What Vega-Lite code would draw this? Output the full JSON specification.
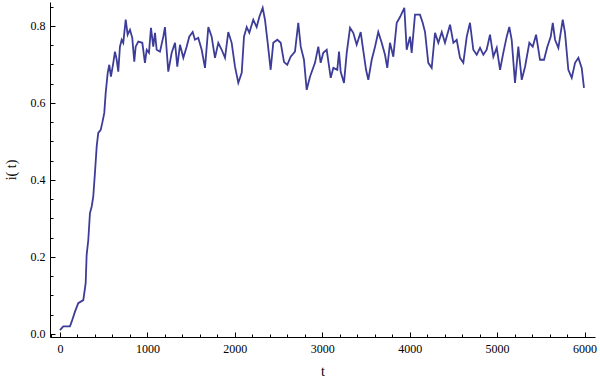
{
  "$schema": "https://vega.github.io/schema/vega-lite/v6.json",
  "width": 545,
  "height": 335,
  "autosize": {"type": "none"},
  "padding": {"left": 50, "top": 2, "right": 5, "bottom": 45},
  "config": {
    "view": {"stroke": null},
    "axis": {
      "grid": false,
      "domainColor": "black",
      "tickColor": "black",
      "labelColor": "black",
      "titleColor": "black",
      "labelFont": "Liberation Serif",
      "titleFont": "Liberation Serif",
      "labelFontSize": 12,
      "titleFontSize": 14,
      "titleFontWeight": "normal"
    }
  },
  "data": {
    "values": [
      {"t": 0, "v": 0.01}, {"t": 38, "v": 0.02}, {"t": 114, "v": 0.02}, {"t": 134, "v": 0.032},
      {"t": 172, "v": 0.058}, {"t": 209, "v": 0.08}, {"t": 267, "v": 0.088}, {"t": 294, "v": 0.132},
      {"t": 305, "v": 0.205}, {"t": 324, "v": 0.244}, {"t": 343, "v": 0.314}, {"t": 363, "v": 0.331},
      {"t": 381, "v": 0.357}, {"t": 400, "v": 0.418}, {"t": 420, "v": 0.487}, {"t": 438, "v": 0.522},
      {"t": 466, "v": 0.53}, {"t": 484, "v": 0.548}, {"t": 507, "v": 0.574}, {"t": 523, "v": 0.626},
      {"t": 546, "v": 0.678}, {"t": 564, "v": 0.699}, {"t": 583, "v": 0.668}, {"t": 610, "v": 0.704},
      {"t": 629, "v": 0.733}, {"t": 649, "v": 0.712}, {"t": 667, "v": 0.681}, {"t": 686, "v": 0.746},
      {"t": 706, "v": 0.764}, {"t": 724, "v": 0.756}, {"t": 752, "v": 0.816}, {"t": 774, "v": 0.777},
      {"t": 801, "v": 0.79}, {"t": 827, "v": 0.769}, {"t": 850, "v": 0.707}, {"t": 866, "v": 0.746},
      {"t": 896, "v": 0.759}, {"t": 942, "v": 0.756}, {"t": 972, "v": 0.704}, {"t": 992, "v": 0.738},
      {"t": 1018, "v": 0.73}, {"t": 1041, "v": 0.795}, {"t": 1067, "v": 0.746}, {"t": 1087, "v": 0.782},
      {"t": 1106, "v": 0.738}, {"t": 1144, "v": 0.733}, {"t": 1182, "v": 0.772}, {"t": 1201, "v": 0.797},
      {"t": 1239, "v": 0.681}, {"t": 1278, "v": 0.73}, {"t": 1316, "v": 0.756}, {"t": 1342, "v": 0.694},
      {"t": 1373, "v": 0.751}, {"t": 1411, "v": 0.717}, {"t": 1449, "v": 0.746}, {"t": 1479, "v": 0.772},
      {"t": 1518, "v": 0.784}, {"t": 1544, "v": 0.764}, {"t": 1582, "v": 0.769}, {"t": 1621, "v": 0.738},
      {"t": 1659, "v": 0.691}, {"t": 1697, "v": 0.797}, {"t": 1735, "v": 0.772}, {"t": 1773, "v": 0.717},
      {"t": 1811, "v": 0.756}, {"t": 1850, "v": 0.738}, {"t": 1888, "v": 0.717}, {"t": 1925, "v": 0.784},
      {"t": 1964, "v": 0.756}, {"t": 2002, "v": 0.694}, {"t": 2040, "v": 0.652}, {"t": 2079, "v": 0.678},
      {"t": 2105, "v": 0.772}, {"t": 2136, "v": 0.797}, {"t": 2166, "v": 0.782}, {"t": 2211, "v": 0.816},
      {"t": 2250, "v": 0.797}, {"t": 2280, "v": 0.823}, {"t": 2319, "v": 0.847}, {"t": 2345, "v": 0.816},
      {"t": 2376, "v": 0.756}, {"t": 2410, "v": 0.686}, {"t": 2440, "v": 0.756}, {"t": 2486, "v": 0.764},
      {"t": 2525, "v": 0.756}, {"t": 2563, "v": 0.706}, {"t": 2600, "v": 0.699}, {"t": 2639, "v": 0.72},
      {"t": 2688, "v": 0.733}, {"t": 2726, "v": 0.808}, {"t": 2754, "v": 0.746}, {"t": 2791, "v": 0.712},
      {"t": 2822, "v": 0.634}, {"t": 2860, "v": 0.668}, {"t": 2917, "v": 0.704}, {"t": 2955, "v": 0.746},
      {"t": 2982, "v": 0.704}, {"t": 3012, "v": 0.73}, {"t": 3051, "v": 0.738}, {"t": 3097, "v": 0.665},
      {"t": 3127, "v": 0.691}, {"t": 3172, "v": 0.686}, {"t": 3192, "v": 0.733}, {"t": 3211, "v": 0.681},
      {"t": 3249, "v": 0.652}, {"t": 3280, "v": 0.73}, {"t": 3318, "v": 0.795}, {"t": 3355, "v": 0.782},
      {"t": 3394, "v": 0.751}, {"t": 3440, "v": 0.784}, {"t": 3463, "v": 0.746}, {"t": 3501, "v": 0.686},
      {"t": 3527, "v": 0.66}, {"t": 3566, "v": 0.712}, {"t": 3604, "v": 0.746}, {"t": 3641, "v": 0.784},
      {"t": 3680, "v": 0.756}, {"t": 3718, "v": 0.725}, {"t": 3744, "v": 0.691}, {"t": 3775, "v": 0.756},
      {"t": 3813, "v": 0.72}, {"t": 3852, "v": 0.808}, {"t": 3890, "v": 0.823}, {"t": 3939, "v": 0.847},
      {"t": 3966, "v": 0.738}, {"t": 4004, "v": 0.772}, {"t": 4023, "v": 0.73}, {"t": 4061, "v": 0.829},
      {"t": 4118, "v": 0.829}, {"t": 4149, "v": 0.808}, {"t": 4176, "v": 0.784}, {"t": 4213, "v": 0.704},
      {"t": 4252, "v": 0.691}, {"t": 4290, "v": 0.782}, {"t": 4328, "v": 0.756}, {"t": 4367, "v": 0.784},
      {"t": 4404, "v": 0.756}, {"t": 4462, "v": 0.803}, {"t": 4500, "v": 0.756}, {"t": 4538, "v": 0.764},
      {"t": 4576, "v": 0.717}, {"t": 4614, "v": 0.704}, {"t": 4653, "v": 0.772}, {"t": 4690, "v": 0.808},
      {"t": 4728, "v": 0.738}, {"t": 4767, "v": 0.725}, {"t": 4805, "v": 0.743}, {"t": 4843, "v": 0.725},
      {"t": 4881, "v": 0.738}, {"t": 4919, "v": 0.777}, {"t": 4957, "v": 0.72}, {"t": 4996, "v": 0.743},
      {"t": 5034, "v": 0.686}, {"t": 5071, "v": 0.73}, {"t": 5110, "v": 0.772}, {"t": 5140, "v": 0.797},
      {"t": 5167, "v": 0.764}, {"t": 5205, "v": 0.652}, {"t": 5243, "v": 0.746}, {"t": 5282, "v": 0.66},
      {"t": 5320, "v": 0.694}, {"t": 5369, "v": 0.756}, {"t": 5408, "v": 0.746}, {"t": 5446, "v": 0.777},
      {"t": 5491, "v": 0.712}, {"t": 5537, "v": 0.712}, {"t": 5575, "v": 0.746}, {"t": 5614, "v": 0.772},
      {"t": 5637, "v": 0.808}, {"t": 5663, "v": 0.764}, {"t": 5701, "v": 0.743}, {"t": 5751, "v": 0.816},
      {"t": 5777, "v": 0.782}, {"t": 5815, "v": 0.686}, {"t": 5854, "v": 0.665}, {"t": 5892, "v": 0.704},
      {"t": 5930, "v": 0.717}, {"t": 5968, "v": 0.691}, {"t": 5994, "v": 0.639}
    ]
  },
  "layer": [
    {
      "mark": {"type": "line", "color": "#3d3d99", "strokeWidth": 1.8},
      "encoding": {
        "x": {
          "field": "t", "type": "quantitative",
          "scale": {"domain": [-114, 6120], "nice": false, "zero": false},
          "axis": {"values": [0, 1000, 2000, 3000, 4000, 5000, 6000], "format": "d", "tickSize": -5, "labelPadding": 11, "title": "t", "titlePadding": 10}
        },
        "y": {
          "field": "v", "type": "quantitative",
          "scale": {"domain": [-0.0078, 0.862], "nice": false, "zero": false},
          "axis": {"values": [0, 0.2, 0.4, 0.6, 0.8], "format": ".1f", "tickSize": -5, "labelPadding": 10, "title": "i( t)", "titlePadding": 12}
        }
      }
    },
    {
      "mark": {"type": "line", "opacity": 0},
      "encoding": {
        "x": {
          "field": "t", "type": "quantitative",
          "axis": {"orient": "bottom", "values": [-100, 200, 400, 600, 800, 1200, 1400, 1600, 1800, 2200, 2400, 2600, 2800, 3200, 3400, 3600, 3800, 4200, 4400, 4600, 4800, 5200, 5400, 5600, 5800], "labels": false, "domain": false, "tickSize": -3, "title": null}
        },
        "y": {
          "field": "v", "type": "quantitative",
          "axis": {"orient": "left", "values": [0.05, 0.1, 0.15, 0.25, 0.3, 0.35, 0.45, 0.5, 0.55, 0.65, 0.7, 0.75, 0.85], "labels": false, "domain": false, "tickSize": -3, "title": null}
        }
      }
    }
  ],
  "resolve": {"axis": {"x": "independent", "y": "independent"}}
}
